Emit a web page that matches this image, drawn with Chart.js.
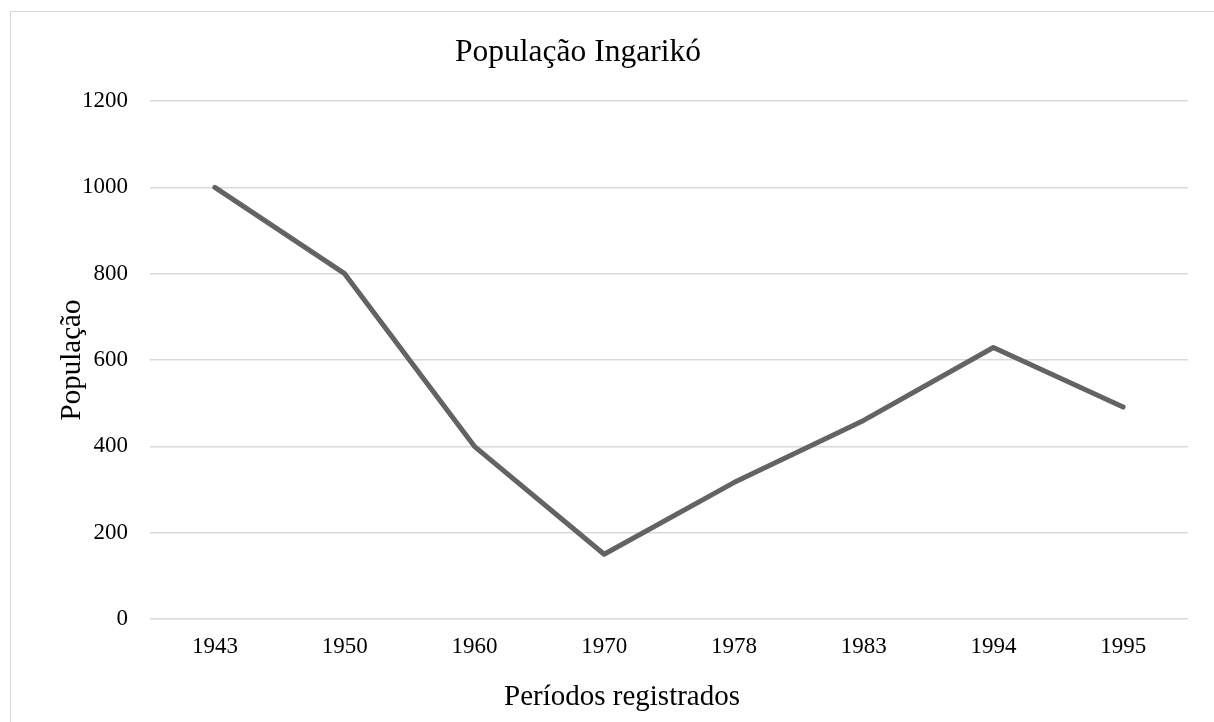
<!DOCTYPE html>
<html>
<head>
<meta charset="utf-8">
<script src="https://cdn.jsdelivr.net/npm/chart.js@4.4.1/dist/chart.umd.min.js"></script>
<style>
  html, body { margin: 0; padding: 0; background: #fff; }
  #frame { position: absolute; left: 10px; top: 11px; width: 1240px; height: 740px; border: 1px solid #d9d9d9; }
  #chart { position: absolute; left: 0; top: 0; }
</style>
</head>
<body>
<div id="frame"></div>
<canvas id="chart" width="1214" height="722"></canvas>
<script>
// Ingarikó population by recorded period
const years = ["1943", "1950", "1960", "1970", "1978", "1983", "1994", "1995"];
const population = [1000, 800, 400, 150, 316, 460, 629, 491];
const yTicks = [0, 200, 400, 600, 800, 1000, 1200];
const chartTitle = "População Ingarikó";
const xTitle = "Períodos registrados";

const SERIF = '"Liberation Serif", "Times New Roman", serif';
Chart.defaults.font.family = SERIF;
Chart.defaults.color = "#000";

// chart title and x title are off the plot centre in the original, so draw them by hand
const titlePlugin = {
  id: "fixedTitles",
  afterDraw(chart) {
    const ctx = chart.ctx;
    ctx.save();
    ctx.fillStyle = "#000";
    ctx.textAlign = "center";
    ctx.textBaseline = "alphabetic";
    ctx.font = "31.5px " + SERIF;
    ctx.fillText(chartTitle, 578, 61);
    ctx.font = "29px " + SERIF;
    ctx.fillText(xTitle, 622, 705);
    ctx.restore();
  },
};

new Chart(document.getElementById("chart"), {
  type: "line",
  data: {
    labels: years,
    datasets: [{
      label: "População",
      data: population,
      borderColor: "#636363",
      borderWidth: 5,
      borderCapStyle: "round",
      borderJoinStyle: "round",
      pointRadius: 0,
      tension: 0,
      fill: false,
    }],
  },
  plugins: [titlePlugin],
  options: {
    responsive: false,
    animation: false,
    layout: { padding: { left: 0, right: 26, top: 101, bottom: 0 } },
    plugins: {
      legend: { display: false },
      tooltip: { enabled: false },
      title: { display: false },
    },
    scales: {
      x: {
        offset: true,
        grid: { display: false, drawTicks: false },
        border: { display: false },
        ticks: { font: { size: 23 }, padding: 14, color: "#000", maxRotation: 0 },
        afterFit: (s) => { s.height = 103; },
      },
      y: {
        min: 0,
        max: 1200,
        afterBuildTicks: (s) => { s.ticks = yTicks.map((v) => ({ value: v })); },
        grid: { color: "#d9d9d9", lineWidth: 1.5, drawTicks: false },
        border: { display: false },
        ticks: { font: { size: 23 }, padding: 22, color: "#000", callback: (v) => String(v) },
        title: {
          display: true,
          text: "População",
          font: { size: 29 },
          color: "#000",
          padding: { top: 55, bottom: 0 },
        },
        afterFit: (s) => { s.width = 150; },
      },
    },
  },
});
</script>
</body>
</html>
